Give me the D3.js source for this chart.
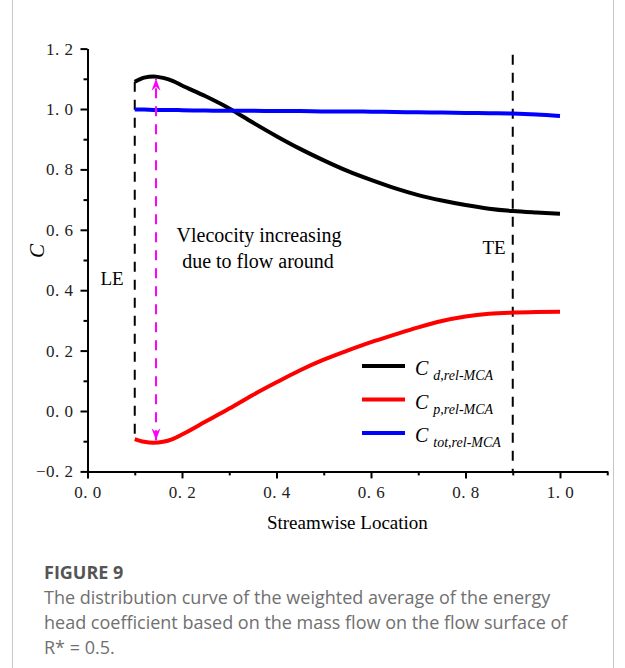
<!DOCTYPE html>
<html>
  <head><meta charset="utf-8"></head>
  <script src="https://d3js.org/d3.v7.min.js" type="text/JavaScript"></script>
  <body style="margin:0">
    <svg />
    <script>
// streamwise location of the sampled points
var xs = [0.10, 0.12, 0.14, 0.16, 0.18, 0.20, 0.25, 0.30, 0.35, 0.40, 0.45, 0.50,
          0.55, 0.60, 0.65, 0.70, 0.75, 0.80, 0.85, 0.90, 0.95, 1.00];
var cd = [1.090, 1.104, 1.108, 1.103, 1.093, 1.078, 1.042, 1.002, 0.955, 0.910, 0.868, 0.830,
          0.795, 0.765, 0.738, 0.715, 0.697, 0.682, 0.670, 0.662, 0.657, 0.653];
var cp = [-0.093, -0.102, -0.105, -0.102, -0.093, -0.078, -0.035, 0.008, 0.053, 0.095, 0.135, 0.170,
          0.200, 0.228, 0.253, 0.277, 0.298, 0.313, 0.322, 0.326, 0.328, 0.329];
var ctot = [0.998, 0.998, 0.997, 0.997, 0.997, 0.996, 0.995, 0.994, 0.994, 0.993, 0.993, 0.992,
            0.992, 0.991, 0.990, 0.989, 0.988, 0.987, 0.986, 0.985, 0.982, 0.977];

var seriesNames = ['d,rel-MCA', 'p,rel-MCA', 'tot,rel-MCA'];
var seriesColors = ['#000000', '#ff0000', '#0000ff'];

var xTicks = [0, 0.2, 0.4, 0.6, 0.8, 1.0];
var xMinor = [0.1, 0.3, 0.5, 0.7, 0.9, 1.1];
var yTicks = [-0.2, 0, 0.2, 0.4, 0.6, 0.8, 1.0, 1.2];
var yMinor = [-0.1, 0.1, 0.3, 0.5, 0.7, 0.9, 1.1];

// LE / TE marker lines and the velocity arrow
var leLine = {x: 0.1, y0: 1.09, y1: -0.093};
var teLine = {x: 0.9, y0: 1.18, y1: -0.2};
var arrow = {x: 0.145, y0: -0.097, y1: 1.10};

var svg = d3.select('svg')
  .attr('width', 625)
  .attr('height', 668)
  .style('background', '#fff');

var x = d3.scaleLinear().domain([0, 1.1]).range([87.5, 607.25]);
var y = d3.scaleLinear().domain([-0.2, 1.2]).range([471.4, 48.6]);

// frame
svg.selectAll('line.frame')
  .data([12.5, 613.5])
  .enter().append('line')
    .attr('class', 'frame')
    .attr('x1', d => d).attr('x2', d => d)
    .attr('y1', 0).attr('y2', 668)
    .style('stroke', '#c8c8c8').style('stroke-width', 1);

var tickFmt = d => d3.format('.1f')(d).replace('.', '. ').replace('-', '\u2212');

function styleAxis(g) {
  g.attr('font-family', '"Liberation Serif", serif').attr('font-size', 17);
  g.select('.domain').style('stroke-width', 2);
  g.selectAll('.tick line').style('stroke-width', 2);
  g.selectAll('.tick text')
    .attr('fill', '#222')
    .style('letter-spacing', '0.5px');
}

svg.append('g')
  .attr('transform', 'translate(0,' + y(-0.2) + ')')
  .call(d3.axisBottom(x).tickValues(xMinor).tickSize(4).tickSizeOuter(0).tickFormat(''))
  .call(styleAxis);
svg.append('g')
  .attr('transform', 'translate(0,' + y(-0.2) + ')')
  .call(d3.axisBottom(x).tickValues(xTicks).tickSize(7).tickSizeOuter(0).tickPadding(8).tickFormat(tickFmt))
  .call(styleAxis);

svg.append('g')
  .attr('transform', 'translate(' + x(0) + ',0)')
  .call(d3.axisLeft(y).tickValues(yMinor).tickSize(4).tickSizeOuter(0).tickFormat(''))
  .call(styleAxis);
svg.append('g')
  .attr('transform', 'translate(' + x(0) + ',0)')
  .call(d3.axisLeft(y).tickValues(yTicks).tickSize(7).tickSizeOuter(0).tickPadding(7).tickFormat(tickFmt))
  .call(styleAxis);

// axis titles
svg.append('text')
  .attr('x', (x(0) + x(1.1)) / 2)
  .attr('y', 529)
  .attr('text-anchor', 'middle')
  .style('font-family', '"Liberation Serif", serif')
  .style('font-size', '19px')
  .text('Streamwise Location');

svg.append('text')
  .attr('transform', 'translate(44,' + y(0.53) + ') rotate(-90)')
  .attr('text-anchor', 'middle')
  .style('font-family', '"Liberation Serif", serif')
  .style('font-style', 'italic')
  .style('font-size', '21px')
  .text('C');

// LE / TE dashed lines
svg.selectAll('line.edge')
  .data([leLine, teLine])
  .enter().append('line')
    .attr('class', 'edge')
    .attr('x1', d => x(d.x)).attr('x2', d => x(d.x))
    .attr('y1', d => y(d.y0)).attr('y2', d => y(d.y1))
    .style('stroke', '#000')
    .style('stroke-width', 2)
    .style('stroke-dasharray', '10,8');

// curves
var series = [cd, cp, ctot];
var line = d3.line()
  .x((d, i) => x(xs[i]))
  .y(d => y(d))
  .curve(d3.curveMonotoneX);

svg.selectAll('path.curve')
  .data(series)
  .enter().append('path')
    .attr('class', 'curve')
    .attr('d', d => line(d))
    .style('fill', 'none')
    .style('stroke', (d, i) => seriesColors[i])
    .style('stroke-width', 4);

// magenta arrow
var defs = svg.append('defs');
defs.append('marker')
  .attr('id', 'arr')
  .attr('viewBox', '-12 -6 14 12')
  .attr('refX', 0).attr('refY', 0)
  .attr('markerWidth', 14).attr('markerHeight', 12)
  .attr('markerUnits', 'userSpaceOnUse')
  .attr('orient', 'auto-start-reverse')
  .append('path')
    .attr('d', 'M0,0 L-12,-4.5 L-8,0 L-12,4.5 Z')
    .style('fill', '#ff00ff');

svg.append('line')
  .attr('x1', x(arrow.x)).attr('x2', x(arrow.x))
  .attr('y1', y(arrow.y0)).attr('y2', y(arrow.y1))
  .attr('marker-start', 'url(#arr)')
  .attr('marker-end', 'url(#arr)')
  .style('stroke', '#ff00ff')
  .style('stroke-width', 2)
  .style('stroke-dasharray', '10,8');

// annotations
var note = svg.append('text')
  .attr('text-anchor', 'middle')
  .style('font-family', '"Liberation Serif", serif')
  .style('font-size', '20px');
note.append('tspan').attr('x', 259).attr('y', 242).text('Vlecocity increasing');
note.append('tspan').attr('x', 258).attr('y', 268).text('due to flow around');

svg.append('text')
  .attr('x', 112).attr('y', 285)
  .attr('text-anchor', 'middle')
  .style('font-family', '"Liberation Serif", serif')
  .style('font-size', '19px')
  .text('LE');

svg.append('text')
  .attr('x', 494).attr('y', 254)
  .attr('text-anchor', 'middle')
  .style('font-family', '"Liberation Serif", serif')
  .style('font-size', '19px')
  .text('TE');

// legend
var leg = svg.selectAll('g.leg')
  .data(seriesNames)
  .enter().append('g')
    .attr('class', 'leg')
    .attr('transform', (d, i) => 'translate(362,' + (366 + i * 33.5) + ')');

leg.append('line')
  .attr('x1', 0).attr('x2', 43)
  .style('stroke', (d, i) => seriesColors[i])
  .style('stroke-width', 4);

var lt = leg.append('text')
  .attr('x', 53).attr('y', 9)
  .style('font-family', '"Liberation Serif", serif')
  .style('font-style', 'italic');
lt.append('tspan').style('font-size', '20px').text('C');
lt.append('tspan').attr('dx', 5).attr('dy', 5).style('font-size', '14px').text(d => d);

// caption
svg.append('text')
  .attr('x', 44).attr('y', 579)
  .style('font-family', '"Open Sans", sans-serif')
  .style('font-weight', 'bold')
  .style('font-size', '18px')
  .style('fill', '#555')
  .text('FIGURE 9');

var captionLines = [
  'The distribution curve of the weighted average of the energy',
  'head coefficient based on the mass flow on the flow surface of',
  'R* = 0.5.'
];
svg.selectAll('text.cap')
  .data(captionLines)
  .enter().append('text')
    .attr('class', 'cap')
    .attr('x', 44)
    .attr('y', (d, i) => 604 + i * 25)
    .style('font-family', '"Open Sans", sans-serif')
    .style('font-size', '18px')
    .style('fill', '#707070')
    .text(d => d);
    </script>
  </body>
</html>
